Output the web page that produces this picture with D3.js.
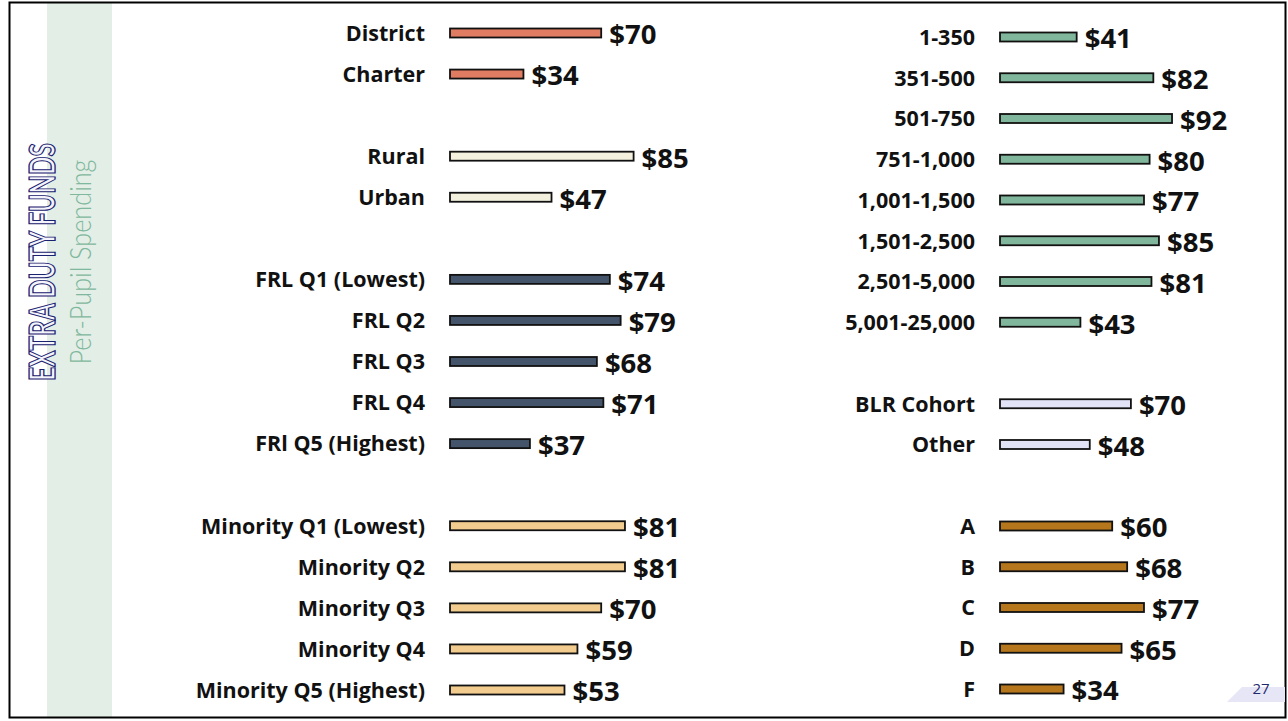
<!DOCTYPE html>
<html>
<head>
<meta charset="utf-8">
<script src="https://cdn.jsdelivr.net/npm/d3@7"></script>
<style>
  body { margin: 0; background: #fff; }
  svg { display: block; }
</style>
</head>
<body>
<div id="chart"></div>
<script>
// left column groups
var sectorCats = ["District", "Charter"];
var sectorVals = [70, 34];
var localeCats = ["Rural", "Urban"];
var localeVals = [85, 47];
var frlCats = ["FRL Q1 (Lowest)", "FRL Q2", "FRL Q3", "FRL Q4", "FRl Q5 (Highest)"];
var frlVals = [74, 79, 68, 71, 37];
var minorityCats = ["Minority Q1 (Lowest)", "Minority Q2", "Minority Q3", "Minority Q4", "Minority Q5 (Highest)"];
var minorityVals = [81, 81, 70, 59, 53];

// right column groups
var sizeCats = ["1-350", "351-500", "501-750", "751-1,000", "1,001-1,500", "1,501-2,500", "2,501-5,000", "5,001-25,000"];
var sizeVals = [41, 82, 92, 80, 77, 85, 81, 43];
var cohortCats = ["BLR Cohort", "Other"];
var cohortVals = [70, 48];
var gradeCats = ["A", "B", "C", "D", "F"];
var gradeVals = [60, 68, 77, 65, 34];

var title = "EXTRA DUTY FUNDS";
var subtitle = "Per-Pupil Spending";
var pageNum = "27";

var W = 1288, H = 721;
var font = "'Open Sans', Lato, sans-serif";

var svg = d3.select("#chart").append("svg")
  .attr("width", W)
  .attr("height", H);

// frame + side strip
svg.append("rect")
  .attr("x", 47).attr("y", 3).attr("width", 65).attr("height", 714)
  .attr("fill", "#e3eee7");
svg.append("rect")
  .attr("x", 9.5).attr("y", 2.5).attr("width", 1276).attr("height", 715)
  .attr("fill", "none").attr("stroke", "#000").attr("stroke-width", 2);

// vertical title (outlined letters)
svg.append("text")
  .attr("transform", "translate(55,262) rotate(-90)")
  .attr("text-anchor", "middle")
  .attr("font-family", "Lato, sans-serif")
  .attr("font-weight", 700)
  .attr("font-size", 37)
  .attr("textLength", 238)
  .attr("lengthAdjust", "spacingAndGlyphs")
  .attr("fill", "#f4f5fc")
  .attr("stroke", "#1a2270")
  .attr("stroke-width", 1.3)
  .text(title);
svg.append("text")
  .attr("transform", "translate(91,262) rotate(-90)")
  .attr("text-anchor", "middle")
  .attr("font-family", "Lato, sans-serif")
  .attr("font-weight", 300)
  .attr("font-size", 29)
  .attr("textLength", 205)
  .attr("lengthAdjust", "spacingAndGlyphs")
  .attr("fill", "#7fb89c")
  .text(subtitle);

// page number tab
svg.append("path")
  .attr("d", "M1242,687 L1285,687 L1285,702 L1227,702 Z")
  .attr("fill", "#e6e6f6");
svg.append("text")
  .attr("x", 1261).attr("y", 688)
  .attr("text-anchor", "middle")
  .attr("dominant-baseline", "central")
  .attr("font-family", font)
  .attr("font-size", 15)
  .attr("fill", "#1f2a6e")
  .text(pageNum);

// build rows: a blank slot between groups
function buildRows(groups) {
  var rows = [], slots = [];
  groups.forEach(function(g, gi) {
    if (gi > 0) slots.push("gap" + gi);
    g.cats.forEach(function(c, i) {
      slots.push(c);
      rows.push({name: c, value: g.vals[i], color: g.color});
    });
  });
  return {rows: rows, slots: slots};
}

var left = buildRows([
  {cats: sectorCats, vals: sectorVals, color: "#e07c62"},
  {cats: localeCats, vals: localeVals, color: "#f3f1de"},
  {cats: frlCats, vals: frlVals, color: "#44546a"},
  {cats: minorityCats, vals: minorityVals, color: "#f2cc8f"}
]);
var right = buildRows([
  {cats: sizeCats, vals: sizeVals, color: "#80b69b"},
  {cats: cohortCats, vals: cohortVals, color: "#e1e2f6"},
  {cats: gradeCats, vals: gradeVals, color: "#b5761c"}
]);

function drawPanel(p, x, y, labelX) {
  var g = svg.append("g");
  var row = g.selectAll(".row")
    .data(p.rows)
    .enter().append("g")
      .attr("class", "row")
      .attr("transform", function(d) { return "translate(0," + y(d.name) + ")"; });

  row.append("rect")
    .attr("x", x(0))
    .attr("y", -4.5)
    .attr("width", function(d) { return x(d.value) - x(0); })
    .attr("height", 9)
    .attr("fill", function(d) { return d.color; })
    .attr("stroke", "#111")
    .attr("stroke-width", 1.8);

  row.append("text")
    .attr("x", labelX)
    .attr("dy", "0.36em")
    .attr("text-anchor", "end")
    .attr("font-family", font)
    .attr("font-weight", 700)
    .attr("font-size", 21.5)
    .attr("fill", "#111")
    .text(function(d) { return d.name; });

  row.append("text")
    .attr("x", function(d) { return x(d.value) + 8; })
    .attr("y", 1.5)
    .attr("dy", "0.36em")
    .attr("font-family", font)
    .attr("font-weight", 700)
    .attr("font-size", 27.5)
    .attr("fill", "#111")
    .text(function(d) { return "$" + d.value; });
}

var xLeft = d3.scaleLinear().domain([0, 100]).range([450, 666]);
var yLeft = d3.scalePoint().domain(left.slots).range([33, 690]);
drawPanel(left, xLeft, yLeft, 425);

var xRight = d3.scaleLinear().domain([0, 100]).range([1000, 1187]);
var yRight = d3.scalePoint().domain(right.slots).range([37, 689]);
drawPanel(right, xRight, yRight, 975);
</script>
</body>
</html>
